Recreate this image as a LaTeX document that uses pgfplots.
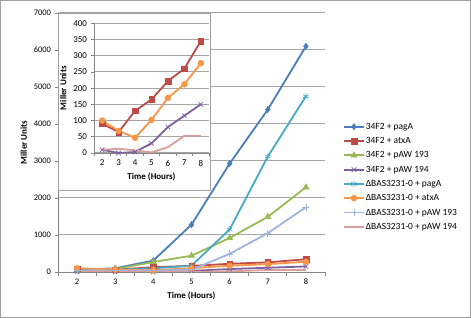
\documentclass[border=0pt]{standalone}
\usepackage{fontspec}
\setmainfont{Carlito}
\usepackage{pgfplots}
\pgfplotsset{compat=1.18}
\definecolor{cBlue}{HTML}{4A7EBB}
\definecolor{cRed}{HTML}{BE4B48}
\definecolor{cGreen}{HTML}{98B954}
\definecolor{cPurple}{HTML}{7D60A0}
\definecolor{cTeal}{HTML}{46AAC5}
\definecolor{cOrange}{HTML}{F79646}
\definecolor{cLBlue}{HTML}{9DB5E0}
\definecolor{cPink}{HTML}{DA9E9C}
\definecolor{axgray}{HTML}{868686}
\definecolor{grdgray}{HTML}{A6A6A6}
\definecolor{boxgray}{HTML}{A0A0A0}
\pgfplotsset{
  common/.style={
    scale only axis, xmin=1.5, xmax=8.5, ymin=0,
    xtick={2,...,8}, minor xtick={1.5,2.5,...,8.5},
    tick align=outside, major tick length=3.5bp, minor tick length=3.5bp,
    tick style={draw=axgray, line width=0.8bp},
    major x tick style={draw=none},
    axis line style={draw=axgray, line width=0.8bp},
    axis x line*=bottom, axis y line*=left,
    ymajorgrids, grid style={draw=grdgray, line width=1bp},
    /pgf/number format/assume math mode=true,
    /pgf/number format/1000 sep={},
    scaled y ticks=false,
    label style={font=\fontsize{9}{10}\selectfont\bfseries},
  },
  sBlue/.style={color=cBlue, line width=1.8bp, mark=diamond*, mark size=3.2bp, mark options={line width=0.4bp}},
  sRed/.style={color=cRed, line width=1.8bp, mark=square*, mark size=2.8bp, mark options={line width=0.4bp}},
  sGreen/.style={color=cGreen, line width=1.8bp, mark=triangle*, mark size=3.6bp, mark options={line width=0.4bp}},
  sPurple/.style={color=cPurple, line width=1.8bp, mark=x, mark size=3.2bp, mark options={line width=0.7bp}},
  sTeal/.style={color=cTeal, line width=1.8bp, mark=asterisk, mark size=3.2bp, mark options={line width=0.7bp}},
  sOrange/.style={color=cOrange, line width=1.8bp, mark=*, mark size=3bp, mark options={line width=0.4bp}},
  sLBlue/.style={color=cLBlue, line width=1.8bp, mark=+, mark size=3.5bp, mark options={line width=0.7bp}},
  sPink/.style={color=cPink, line width=1.8bp, no markers},
}
\begin{document}
\begin{tikzpicture}
\useasboundingbox (0,0) rectangle (471bp,318bp);
\draw[draw=boxgray, line width=0.8bp] (0.5bp,0.5bp) rectangle (470.5bp,317.5bp);
\begin{axis}[common,
  at={(58bp,46bp)}, anchor=south west,
  width=267bp, height=259bp,
  ymax=7000, ytick={0,1000,...,7000},
  tick label style={font=\fontsize{8.5}{10}\selectfont},
  xlabel={Time (Hours)}, ylabel={Miller Units},
  legend cell align=left,
  legend image code/.code={\draw[mark repeat=2,mark phase=2] plot coordinates {(0bp,0bp)(10bp,0bp)(20bp,0bp)};},
  legend style={at={(1.067,0.583)}, anchor=north west, draw=none, fill=none,
    font=\fontsize{9.5}{11}\selectfont, row sep=3.3bp, inner sep=0pt,
    nodes={inner sep=1bp, text height=7bp, text depth=2bp}},
]
\addplot[sBlue] coordinates {(2,60)(3,100)(4,310)(5,1280)(6,2930)(7,4390)(8,6100)};
\addlegendentry{34F2 + pagA}
\addplot[sRed] coordinates {(2,90)(3,65)(4,130)(5,165)(6,222)(7,260)(8,345)};
\addlegendentry{34F2 + atxA}
\addplot[sGreen] coordinates {(2,50)(3,80)(4,270)(5,440)(6,920)(7,1490)(8,2290)};
\addlegendentry{34F2 + pAW 193}
\addplot[sPurple] coordinates {(2,10)(3,0)(4,3)(5,30)(6,80)(7,115)(8,150)};
\addlegendentry{34F2 + pAW 194}
\addplot[sTeal] coordinates {(2,50)(3,60)(4,100)(5,170)(6,1150)(7,3120)(8,4750)};
\addlegendentry{ΔBAS3231-0 + pagA}
\addplot[sOrange] coordinates {(2,100)(3,68)(4,47)(5,102)(6,170)(7,212)(8,277)};
\addlegendentry{ΔBAS3231-0 + atxA}
\addplot[sLBlue] coordinates {(2,40)(3,40)(4,40)(5,60)(6,490)(7,1050)(8,1750)};
\addlegendentry{ΔBAS3231-0 + pAW 193}
\addplot[sPink] coordinates {(2,10)(3,13)(4,8)(5,2)(6,18)(7,53)(8,53)};
\addlegendentry{ΔBAS3231-0 + pAW 194}
\end{axis}
\filldraw[fill=white, draw=boxgray, line width=0.8bp] (58bp,128bp) rectangle (210bp,305bp);
\begin{axis}[common,
  at={(94bp,165bp)}, anchor=south west,
  width=115bp, height=129.7bp,
  ymax=400, ytick={0,50,...,400},
  tick label style={font=\fontsize{9}{10}\selectfont},
  xlabel={Time (Hours)}, ylabel={Miller Units},
]
\addplot[sRed] coordinates {(2,90)(3,65)(4,130)(5,165)(6,222)(7,260)(8,345)};
\addplot[sPurple] coordinates {(2,10)(3,0)(4,3)(5,30)(6,80)(7,115)(8,150)};
\addplot[sOrange] coordinates {(2,100)(3,68)(4,47)(5,102)(6,170)(7,212)(8,277)};
\addplot[sPink] coordinates {(2,10)(3,13)(4,8)(5,2)(6,18)(7,53)(8,53)};
\end{axis}
\end{tikzpicture}
\end{document}
